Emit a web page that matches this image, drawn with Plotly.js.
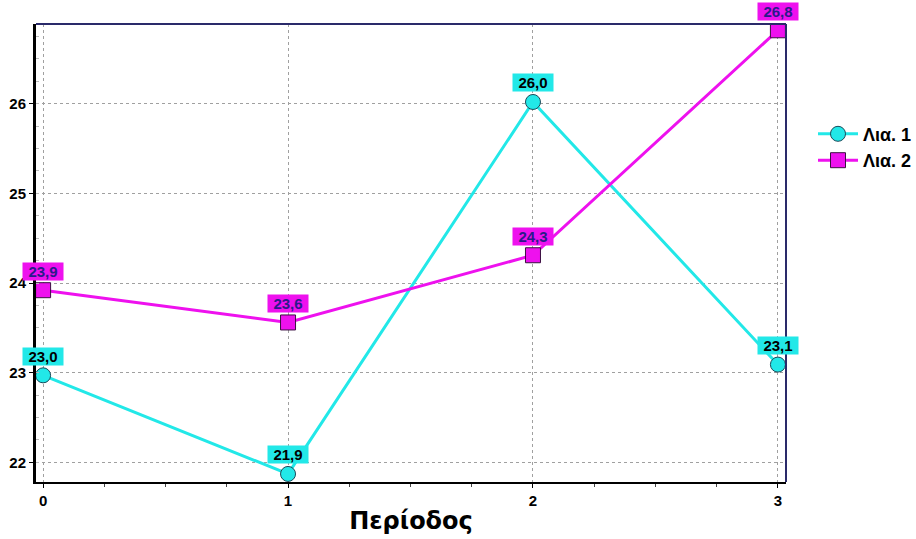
<!DOCTYPE html>
<html>
<head>
<meta charset="utf-8">
<script src="https://cdn.plot.ly/plotly-3.0.1.min.js"></script>
<style>html,body{margin:0;padding:0;background:#fff;}#chart{width:916px;height:539px;}</style>
</head>
<body>
<div id="chart"></div>
<script>
const periods = [0, 1, 2, 3];
const series1Name = "Λια. 1";
const series1 = [22.97, 21.87, 26.02, 23.09];
const series2Name = "Λια. 2";
const series2 = [23.92, 23.56, 24.31, 26.82];
const xTickVals = [0, 1, 2, 3];
const yTickVals = [22, 23, 24, 25, 26];
const xTitle = "Περίοδος";

const fmt = v => v.toFixed(1).replace('.', ',');
const cyan = '#22e8e8';
const magenta = '#ee11ee';

const traces = [
  {x: periods, y: series1, name: series1Name, type: 'scatter', mode: 'lines+markers',
   line: {color: cyan, width: 3},
   marker: {symbol: 'circle', size: 15, color: cyan, line: {color: '#1a4a5a', width: 1}}},
  {x: periods, y: series2, name: series2Name, type: 'scatter', mode: 'lines+markers',
   line: {color: magenta, width: 3},
   marker: {symbol: 'square', size: 15, color: magenta, line: {color: '#3a1040', width: 1}}}
];

const annotations = [];
periods.forEach((p, i) => {
  annotations.push({x: p, y: series1[i], xref: 'x', yref: 'y', text: '<b>' + fmt(series1[i]) + '</b>', showarrow: false,
    yshift: 19, bgcolor: cyan, font: {family: 'Liberation Sans, Arial', size: 15, color: '#000000'},
    borderpad: 0, width: 40, height: 17});
  annotations.push({x: p, y: series2[i], xref: 'x', yref: 'y', text: '<b>' + fmt(series2[i]) + '</b>', showarrow: false,
    yshift: 19, bgcolor: magenta, font: {family: 'Liberation Sans, Arial', size: 15, color: '#2a1a8a'},
    borderpad: 0, width: 40, height: 17});
});

const layout = {
  width: 916, height: 539,
  margin: {l: 36, r: 130, t: 24, b: 57, autoexpand: false},
  paper_bgcolor: '#ffffff', plot_bgcolor: '#ffffff',
  font: {family: 'Liberation Sans, Arial', color: '#000'},
  showlegend: true,
  legend: {x: 1.036, y: 0.80, xanchor: 'left', yanchor: 'top', bgcolor: 'rgba(0,0,0,0)',
    font: {family: 'Liberation Sans, Arial', size: 18, color: '#000', weight: 'bold'},
    itemwidth: 40, tracegroupgap: 0},
  xaxis: {range: [-0.029, 3.033], tickvals: xTickVals, ticktext: xTickVals.map(v => '<b>' + v + '</b>'),
    showgrid: true, gridcolor: '#a0a0a0', griddash: '3px,3px', gridwidth: 1,
    zeroline: false, showline: true, linecolor: '#000', linewidth: 2, mirror: false,
    ticks: 'outside', ticklen: 4, tickcolor: '#000',
    minor: {dtick: 0.25, ticks: 'outside', ticklen: 3, tickcolor: '#444', showgrid: false},
    tickfont: {size: 15, color: '#000'},
    title: {text: '<b>' + xTitle + '</b>', font: {family: 'DejaVu Sans', size: 24, color: '#000'}, standoff: 4}},
  yaxis: {range: [21.78, 26.89], tickvals: yTickVals, ticktext: yTickVals.map(v => '<b>' + v + '</b>'),
    showgrid: true, gridcolor: '#a0a0a0', griddash: '3px,3px', gridwidth: 1,
    zeroline: false, showline: true, linecolor: '#000', linewidth: 3, mirror: false,
    ticks: 'outside', ticklen: 4, tickcolor: '#000',
    minor: {dtick: 0.25, ticks: 'inside', ticklen: 3, tickcolor: '#bbb', showgrid: false},
    tickfont: {size: 15, color: '#000'}},
  shapes: [
    {type: 'line', xref: 'paper', yref: 'paper', x0: 0, x1: 1, y0: 1, y1: 1, line: {color: '#2a2a6a', width: 2}},
    {type: 'line', xref: 'paper', yref: 'paper', x0: 1, x1: 1, y0: 0, y1: 1, line: {color: '#2a2a6a', width: 2}}
  ],
  annotations: annotations
};

Plotly.newPlot('chart', traces, layout, {displayModeBar: false, staticPlot: true});
</script>
</body>
</html>
